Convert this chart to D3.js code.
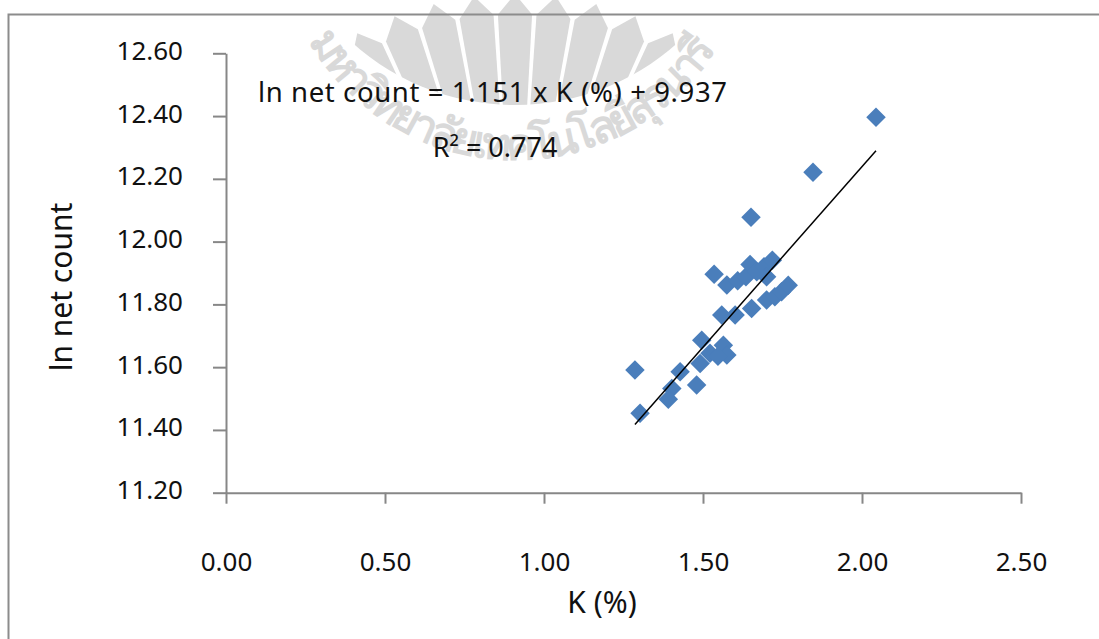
<!DOCTYPE html>
<html>
<head>
<meta charset="utf-8">
<script src="https://cdn.jsdelivr.net/npm/d3@7"></script>
<style>
  html, body { margin: 0; padding: 0; background: #fff; }
  svg { display: block; }
  text { font-family: "Noto Sans", "Open Sans", sans-serif; fill: #111; }
</style>
</head>
<body>
<svg id="chart" width="1099" height="639"></svg>
<script>
// ---- data ----
const kPercent = [2.044, 1.846, 1.651, 1.535, 1.575, 1.609, 1.635, 1.648, 1.669, 1.692, 1.718, 1.700,
                  1.559, 1.601, 1.653, 1.700, 1.726, 1.747, 1.768, 1.496, 1.564, 1.522, 1.491, 1.575,
                  1.547, 1.286, 1.302, 1.428, 1.402, 1.391, 1.480];
const lnNetCount = [12.396, 12.221, 12.078, 11.896, 11.862, 11.875, 11.888, 11.927, 11.904, 11.920, 11.941, 11.888,
                    11.766, 11.766, 11.787, 11.814, 11.824, 11.840, 11.861, 11.686, 11.670, 11.644, 11.612, 11.639,
                    11.635, 11.591, 11.453, 11.585, 11.532, 11.498, 11.543];
const xTicks = [0.00, 0.50, 1.00, 1.50, 2.00, 2.50];
const yTicks = [11.20, 11.40, 11.60, 11.80, 12.00, 12.20, 12.40, 12.60];
const trendSlope = 1.151;
const trendIntercept = 9.937;
const equationLabel = "ln net count = 1.151 x K (%) + 9.937";
const r2Label = "R² = 0.774";
const xTitle = "K (%)";
const yTitle = "ln net count";
const watermarkText = "มหาวิทยาลัยเทคโนโลยีสุรนารี";

const svg = d3.select("#chart");
const axisColor = "#878787";
const defs = svg.append("defs");

// ---- faint watermark (university emblem) ----
const wmColor = "#d9d9d9";
const wm = svg.append("g");
defs.append("clipPath").attr("id", "rayClip")
  .append("circle").attr("cx", 515).attr("cy", -139).attr("r", 244);
const rays = wm.append("g").attr("clip-path", "url(#rayClip)");
const fx = 515, fy = 330;
d3.range(-4, 5).forEach(i => {
  const a = i * 7 * Math.PI / 180;
  const h = 3.1 * Math.PI / 180;
  const pt = (ang, r) => [fx + r * Math.sin(ang), fy - r * Math.cos(ang)];
  const pts = [pt(a - h, 150), pt(a - h, 316), pt(a, 336), pt(a + h, 316), pt(a + h, 150)];
  rays.append("path").attr("d", d3.line()(pts) + "Z").attr("fill", wmColor);
});
const arcR = 238, acx = 515, acy = -78;
const aStart = 151 * Math.PI / 180, aEnd = 27 * Math.PI / 180;
defs.append("path").attr("id", "wmArc")
  .attr("d", `M${acx + arcR * Math.cos(aStart)},${acy + arcR * Math.sin(aStart)} A${arcR},${arcR} 0 0 0 ${acx + arcR * Math.cos(aEnd)},${acy + arcR * Math.sin(aEnd)}`);
wm.append("text").attr("font-size", 44).attr("font-weight", "bold").style("fill", wmColor)
  .append("textPath").attr("href", "#wmArc").attr("startOffset", 4)
  .attr("textLength", 490).attr("lengthAdjust", "spacing")
  .text(watermarkText);

// outer frame
svg.append("rect").attr("x", 8.5).attr("y", 14.5).attr("width", 1200).attr("height", 700)
  .attr("fill", "none").attr("stroke", "#8c8c8c").attr("stroke-width", 2);

// scales
const x = d3.scaleLinear().domain([0, 2.5]).range([226, 1021]);
const y = d3.scaleLinear().domain([11.2, 12.6]).range([492.7, 53.3]);

// x axis
const xAxis = svg.append("g").attr("transform", `translate(0,${y(11.2)})`)
  .call(d3.axisBottom(x).tickValues(xTicks).tickSize(11).tickSizeOuter(0).tickFormat(d3.format(".2f")));
xAxis.select(".domain").attr("stroke", axisColor).attr("stroke-width", 2);
xAxis.selectAll(".tick line").attr("stroke", axisColor).attr("stroke-width", 2);
xAxis.selectAll(".tick text").attr("font-size", 26).attr("font-family", "Noto Sans")
  .attr("dy", null).attr("y", 78).style("fill", "#111");

// y axis
const yAxis = svg.append("g").attr("transform", `translate(${x(0)},0)`)
  .call(d3.axisLeft(y).tickValues(yTicks).tickSize(13).tickSizeOuter(0).tickFormat(d3.format(".2f")));
yAxis.select(".domain").attr("stroke", axisColor).attr("stroke-width", 2);
yAxis.selectAll(".tick line").attr("stroke", axisColor).attr("stroke-width", 2);
yAxis.selectAll(".tick text").attr("font-size", 26).attr("font-family", "Noto Sans")
  .attr("dy", null).attr("x", -43).attr("y", 6).style("fill", "#111");

// points
const pts = kPercent.map((k, i) => ({ k, v: lnNetCount[i] }));
const sym = d3.symbol().type(d3.symbolSquare).size(190);
svg.append("g").selectAll("path").data(pts).join("path")
  .attr("d", sym)
  .attr("transform", d => `translate(${x(d.k)},${y(d.v)}) rotate(45)`)
  .attr("fill", "#4a7ebb");

// trend line
const kMin = d3.min(kPercent), kMax = d3.max(kPercent);
svg.append("line")
  .attr("x1", x(kMin)).attr("y1", y(trendSlope * kMin + trendIntercept))
  .attr("x2", x(kMax)).attr("y2", y(trendSlope * kMax + trendIntercept))
  .attr("stroke", "#000").attr("stroke-width", 1.5);

// equation labels
svg.append("text").attr("x", 258).attr("y", 101.5).attr("font-size", 27.5)
  .attr("textLength", 469).attr("lengthAdjust", "spacing").text(equationLabel);
svg.append("text").attr("x", 495).attr("y", 156.5).attr("font-size", 27).attr("text-anchor", "middle").text(r2Label);

// axis titles
svg.append("text").attr("x", 602).attr("y", 613).attr("font-size", 30).attr("text-anchor", "middle").text(xTitle);
svg.append("text").attr("transform", "translate(72,287) rotate(-90)").attr("font-size", 30)
  .attr("text-anchor", "middle").text(yTitle);
</script>
</body>
</html>
